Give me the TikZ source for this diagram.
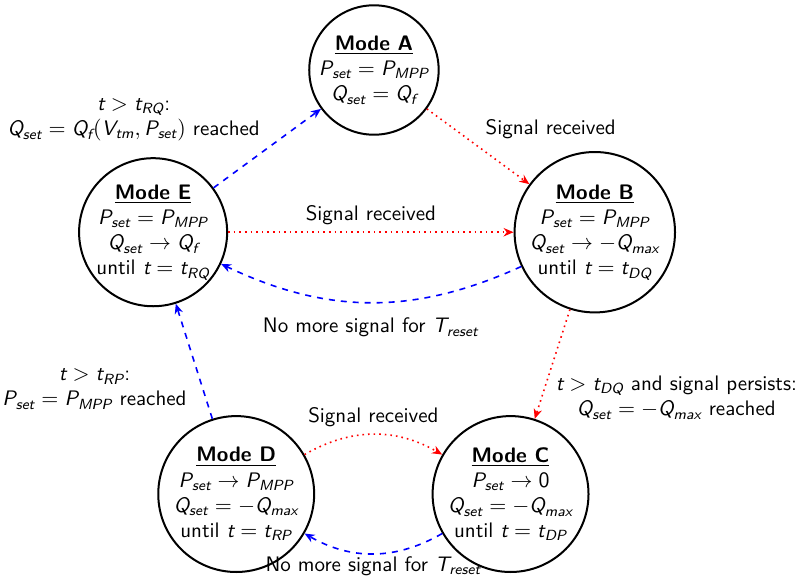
\documentclass[tikz,border=0pt]{standalone}
\usepackage{tikz}
\usetikzlibrary{arrows.meta}
\usepackage{amsmath}
\usepackage{xcolor}

% sans italic letters in formulas
\newcommand{\mv}[1]{\text{\sffamily\slshape #1}}

\begin{document}
\begin{tikzpicture}[
  every node/.style={font=\sffamily\fontsize{10.5}{12.6}\selectfont, align=center, text=black},
  mode/.style={circle, draw=black, line width=1pt, inner sep=0pt},
  sig/.style={red, thick, dotted},
  back/.style={blue, thick, dashed},
  tip/.style={-{Stealth[length=5pt, width=4.2pt, inset=1.6pt]}}
]
  \useasboundingbox (0,0) rectangle (14.02,10.16);

  \node[mode] (a) at (6.57,8.93) {\underline{\textbf{Mode A}}\\ $\mv{P}_{\mv{set}} = \mv{P}_{\mv{MPP}}$\\ $\mv{Q}_{\mv{set}} = \mv{Q}_{\mv{f}}$};
  \node[mode] (b) at (10.45,6.08) {\underline{\textbf{Mode B}}\\ $\mv{P}_{\mv{set}} = \mv{P}_{\mv{MPP}}$\\ $\mv{Q}_{\mv{set}} \rightarrow -\mv{Q}_{\mv{max}}$\\ until $\mv{t} = \mv{t}_{\mv{DQ}}$};
  \node[mode] (c) at (8.97,1.48) {\underline{\textbf{Mode C}}\\ $\mv{P}_{\mv{set}} \rightarrow \mathsf{0}$\\ $\mv{Q}_{\mv{set}} = -\mv{Q}_{\mv{max}}$\\ until $\mv{t} = \mv{t}_{\mv{DP}}$};
  \node[mode] (d) at (4.15,1.48) {\underline{\textbf{Mode D}}\\ $\mv{P}_{\mv{set}} \rightarrow \mv{P}_{\mv{MPP}}$\\ $\mv{Q}_{\mv{set}} = -\mv{Q}_{\mv{max}}$\\ until $\mv{t} = \mv{t}_{\mv{RP}}$};
  \node[mode] (e) at (2.69,6.08) {\underline{\textbf{Mode E}}\\ $\mv{P}_{\mv{set}} = \mv{P}_{\mv{MPP}}$\\ $\mv{Q}_{\mv{set}} \rightarrow \mv{Q}_{\mv{f}}$\\ until $\mv{t} = \mv{t}_{\mv{RQ}}$};

  \path[sig, tip]
    (a) edge node [above right] {Signal received} (b)

    (e) edge node [above] {Signal received} (b)

    (b) edge node [below right, xshift=-2pt, yshift=-2pt] {$\mv{t} > \mv{t}_{\mv{DQ}}$ and signal persists:\\ $\mv{Q}_{\mv{set}} = -\mv{Q}_{\mv{max}}$ reached} (c)

    (d) edge [bend left=30] node [above] {Signal received} (c)
    ;

  \path[back, tip]
    (e) edge node [above left] {$\mv{t} > \mv{t}_{\mv{RQ}}$:\\ $\mv{Q}_{\mv{set}} = \mv{Q}_{\mv{f}}(\mv{V}_{\mv{tm}}, \mv{P}_{\mv{set}})$ reached} (a)

    (b) edge [bend left=25] node [below, yshift=-4pt] {No more signal for $\mv{T}_{\mv{reset}}$} (e)

    (c) edge [bend left=30] node [below, inner sep=1pt] {No more signal for $\mv{T}_{\mv{reset}}$} (d)

    (d) edge node [below left] {$\mv{t} > \mv{t}_{\mv{RP}}$:\\ $\mv{P}_{\mv{set}} = \mv{P}_{\mv{MPP}}$ reached} (e)
    ;

\end{tikzpicture}
\end{document}
